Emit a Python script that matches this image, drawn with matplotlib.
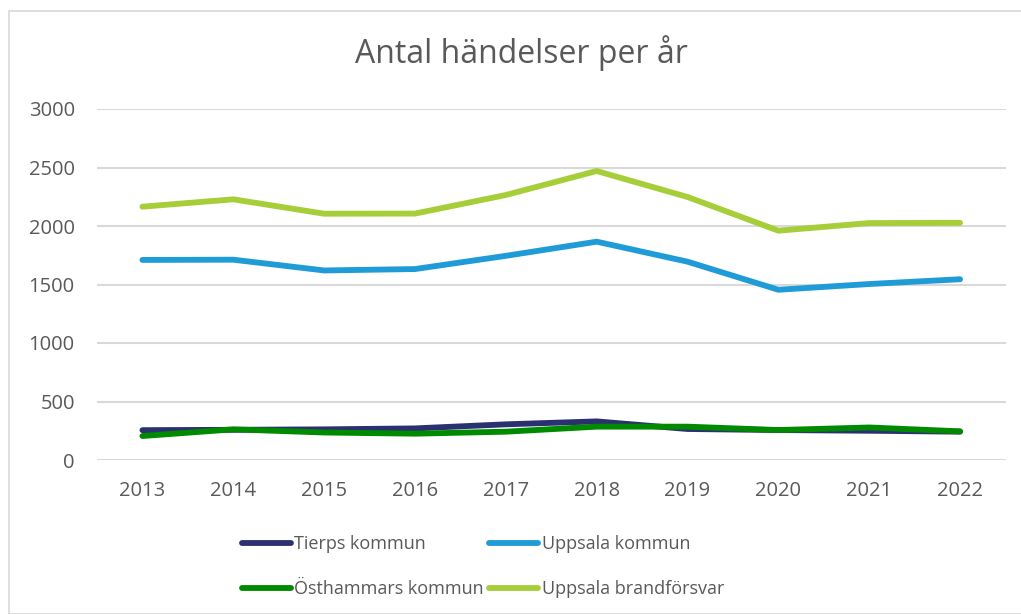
import matplotlib
matplotlib.use("Agg")
import matplotlib.pyplot as plt
from matplotlib.patches import Rectangle

years = ["2013", "2014", "2015", "2016", "2017", "2018", "2019", "2020", "2021", "2022"]
tierps = [255, 258, 262, 270, 305, 330, 265, 256, 250, 242]
uppsala_kommun = [1710, 1712, 1620, 1632, 1745, 1866, 1695, 1455, 1504, 1545]
osthammars = [205, 262, 235, 225, 242, 285, 285, 256, 278, 245]
uppsala_brand = [2165, 2228, 2105, 2106, 2265, 2470, 2248, 1960, 2025, 2027]

series_names = ["Tierps kommun", "Uppsala kommun", "Östhammars kommun", "Uppsala brandförsvar"]
series_vals = [tierps, uppsala_kommun, osthammars, uppsala_brand]
colors = ["#2B3170", "#1F9BD8", "#008A00", "#A6CE39"]

plt.rcParams['font.family'] = ['Open Sans', 'DejaVu Sans']
text_color = "#595959"

fig = plt.figure(figsize=(10.21, 6.14), dpi=100)
W, H = 1021, 614
fig.patches.append(Rectangle((9 / W, 0), 1.2, 1 - 11 / H, transform=fig.transFigure,
                             fill=False, edgecolor="#d9d9d9", linewidth=1.2))

ax = fig.add_axes([97 / W, 1 - 460 / H, (1005.5 - 97) / W, (460 - 109) / H])
x = list(range(len(years)))
lines = []
for name, vals, c in zip(series_names, series_vals, colors):
    ln, = ax.plot(x, vals, color=c, linewidth=4.2, solid_capstyle='round',
                  solid_joinstyle='round', label=name)
    lines.append(ln)

ax.set_xlim(-0.5, len(years) - 0.5)
ax.set_ylim(0, 3000)
ax.set_yticks(range(0, 3001, 500))
ax.set_xticks(x)
ax.set_xticklabels(years)
ax.tick_params(axis='both', length=0, labelsize=14.5, colors=text_color)
ax.tick_params(axis='y', pad=16)
ax.tick_params(axis='x', pad=15)
ax.grid(axis='y', color="#d9d9d9", linewidth=1.5)
ax.set_axisbelow(True)
for s in ax.spines.values():
    s.set_visible(False)

fig.text(521 / W, 1 - 53 / H, "Antal händelser per år", ha='center', va='center',
         fontsize=23, color=text_color)

order = [0, 2, 1, 3]
leg = fig.legend([lines[i] for i in order], [series_names[i] for i in order],
                 ncol=2, loc='center', bbox_to_anchor=(483 / W, 1 - 566.5 / H),
                 frameon=False, fontsize=13, handlelength=2.7, handletextpad=0.2,
                 columnspacing=0.28, labelspacing=1.48, labelcolor=text_color)

fig.savefig("out.png", dpi=100, facecolor="white")
